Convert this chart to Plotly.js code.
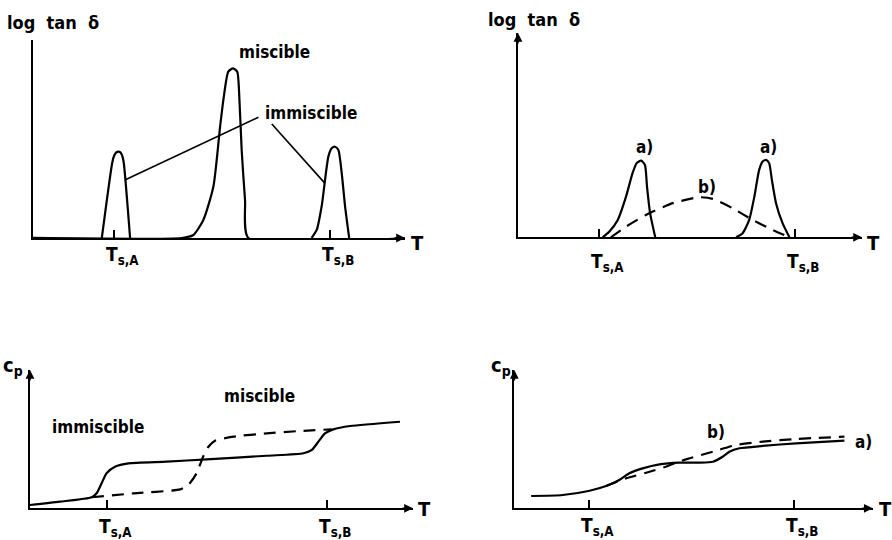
<!DOCTYPE html>
<html>
<head>
<meta charset="utf-8">
<script src="https://cdn.plot.ly/plotly-3.0.1.min.js"></script>
<style>html,body{margin:0;padding:0;background:#fff;}#chart{width:892px;height:540px;}</style>
</head>
<body>
<div id="chart"></div>
<script>
// ---------- Data (arbitrary units: T 0-100 along each axis, response 0-100 up each axis) ----------
// Panel 1: log tan δ, miscible vs immiscible
const p1PeakA_T = [18.5, 21.3, 21.8, 22.4, 22.9, 23.5, 24.0, 24.4, 26.1];
const p1PeakA_Y = [0, 38, 41.5, 43.2, 43.6, 43.2, 41.5, 38, 0];
const p1Misc_T = [0, 40.0, 43.1, 45.8, 48.5, 50.3, 51.3, 52.5, 53.8, 54.9, 55.5, 56.1, 57.0, 57.9, 100];
const p1Misc_Y = [0, 0, 1.5, 9.1, 26.0, 56.3, 71.4, 84.0, 85.7, 84.0, 69.7, 44.4, 19.2, 0, 0];
const p1PeakB_T = [74.9, 76.3, 77.6, 79.4, 80.3, 81.2, 82.1, 83.0, 83.9, 85.0];
const p1PeakB_Y = [0, 4.2, 16.0, 41.1, 45.3, 46.1, 44.4, 32.7, 16.0, 0];
const p1Leader1_T = [60.6, 24.7];
const p1Leader1_Y = [61.0, 29.3];
const p1Leader2_T = [64.2, 78.5];
const p1Leader2_Y = [57.6, 27.6];
const p1Ticks = [21.9, 79.8];

// Panel 2: log tan δ, a) two phases, b) broad
const p2A1_T = [24.6, 26.5, 29.0, 31.4, 33.3, 34.5, 35.8, 36.9, 37.5, 38.4, 39.9];
const p2A1_Y = [0, 2.7, 8.5, 19.9, 31.4, 36.3, 37.5, 35.4, 24.8, 11.8, 0];
const p2A2_T = [63.4, 65.3, 67.2, 68.7, 70.1, 71.1, 72.1, 73.0, 73.8, 75.0, 76.9, 78.9];
const p2A2_Y = [0, 2.0, 8.5, 19.9, 33.0, 37.1, 37.9, 36.3, 28.1, 16.7, 6.9, 0];
const p2B_T = [27.0, 31.4, 37.2, 45.0, 52.7, 56.6, 62.4, 68.2, 74.0, 78.9];
const p2B_Y = [0, 5.2, 10.9, 16.7, 19.6, 18.8, 14.2, 8.5, 3.6, 0];
const p2Ticks = [23.6, 80.6];

// Panel 3: c_p, miscible vs immiscible
const p3Solid_T = [0, 7.8, 16.1, 17.4, 18.7, 20.0, 22.2, 25.7, 35.7, 46.1, 61.8, 71.4, 73.6, 75.3, 77.0, 79.2, 83.6, 96.6];
const p3Solid_Y = [2.4, 4.8, 8.0, 10.9, 18.1, 25.4, 30.1, 32.5, 33.7, 35.4, 38.0, 39.8, 42.2, 48.2, 54.2, 57.1, 59.5, 62.6];
const p3Dash_T = [16.1, 27.0, 39.2, 41.3, 43.5, 45.2, 46.6, 48.3, 53.1, 61.8, 70.5, 78.8];
const p3Dash_Y = [8.0, 10.8, 13.7, 16.8, 25.3, 37.3, 44.5, 48.9, 51.8, 54.2, 55.9, 57.1];
const p3Ticks = [20.2, 77.5];

// Panel 4: c_p, a) and b)
const p4A_T = [4.7, 13.5, 21.0, 25.6, 29.3, 32.1, 35.8, 40.5, 46.0, 51.6, 55.4, 58.1, 60.0, 62.8, 69.3, 78.6, 92.1];
const p4A_Y = [8.9, 9.6, 12.7, 16.1, 20.5, 25.3, 28.9, 31.8, 33.0, 33.0, 33.7, 37.3, 40.9, 43.4, 45.1, 47.0, 48.9];
const p4B_T = [25.6, 31.2, 36.8, 42.3, 47.9, 55.4, 61.9, 69.3, 78.6, 92.1];
const p4B_Y = [16.1, 21.7, 25.7, 30.1, 35.4, 40.9, 45.8, 48.2, 50.1, 51.8];
const p4Ticks = [20.8, 78.1];

const tickText = ['T<sub>s,A</sub>', 'T<sub>s,B</sub>'];

// ---------- Styling ----------
const FONT = 'DejaVu Sans Condensed, DejaVu Sans, sans-serif';
const solid = {color: '#000', width: 2.2, shape: 'spline', smoothing: 0.6};
const dashed = {color: '#000', width: 2.2, dash: '12px,8px', shape: 'spline', smoothing: 0.6};
const straight = {color: '#000', width: 1.6};

function tr(x, y, line, xa, ya) {
  return {type: 'scatter', mode: 'lines', x: x, y: y, line: line, xaxis: xa, yaxis: ya, hoverinfo: 'skip'};
}

const traces = [
  tr(p1PeakA_T, p1PeakA_Y, solid, 'x', 'y'),
  tr(p1Misc_T, p1Misc_Y, solid, 'x', 'y'),
  tr(p1PeakB_T, p1PeakB_Y, solid, 'x', 'y'),
  tr(p1Leader1_T, p1Leader1_Y, straight, 'x', 'y'),
  tr(p1Leader2_T, p1Leader2_Y, straight, 'x', 'y'),
  tr(p2A1_T, p2A1_Y, solid, 'x2', 'y2'),
  tr(p2A2_T, p2A2_Y, solid, 'x2', 'y2'),
  tr(p2B_T, p2B_Y, dashed, 'x2', 'y2'),
  tr(p3Solid_T, p3Solid_Y, solid, 'x3', 'y3'),
  tr(p3Dash_T, p3Dash_Y, dashed, 'x3', 'y3'),
  tr(p4A_T, p4A_Y, solid, 'x4', 'y4'),
  tr(p4B_T, p4B_Y, dashed, 'x4', 'y4')
];

function xax(domain, anchor, ticks) {
  return {domain: domain, anchor: anchor, range: [0, 100], showgrid: false, zeroline: false,
    showline: true, linecolor: '#000', linewidth: 2, ticks: 'inside', ticklen: 8, tickwidth: 2,
    tickcolor: '#000', tickvals: ticks, showticklabels: false, fixedrange: true};
}
function yax(domain, anchor) {
  return {domain: domain, anchor: anchor, range: [0, 100], showgrid: false, zeroline: false,
    showline: true, linecolor: '#000', linewidth: 2, ticks: '', showticklabels: false, fixedrange: true};
}

const annotations = [];
// positions given as fractions of each panel's axis length (axis domain units)
function txt(n, x, y, text, size, xanchor, extra) {
  annotations.push(Object.assign({xref: 'x' + n + ' domain', yref: 'y' + n + ' domain', x: x, y: y, text: text,
    showarrow: false, xanchor: xanchor || 'center', yanchor: 'middle',
    font: {family: FONT, size: size, color: '#000', weight: 'bold'}}, extra || {}));
}
function arrow(n, x, y, ax, ay) {
  annotations.push({xref: 'x' + n + ' domain', yref: 'y' + n + ' domain', x: x, y: y, ax: ax, ay: ay, text: '',
    showarrow: true, arrowhead: 2, arrowsize: 1.1, arrowwidth: 1.6, arrowcolor: '#000'});
}
function tickLabels(n, ticks, yshift) {
  ticks.forEach((t, i) => annotations.push({xref: 'x' + n, yref: 'y' + n + ' domain', x: t, y: 0,
    text: tickText[i], showarrow: false, xanchor: 'left', yanchor: 'top', xshift: -10, yshift: yshift,
    font: {family: FONT, size: 19, color: '#000', weight: 'bold'}}));
}

const LOGTAN = 'log\u00a0\u00a0tan\u00a0\u00a0δ';

// Panel 1
txt('', -0.075, 1.09, LOGTAN, 18, 'left');
txt('', 0.648, 0.939, 'miscible', 17);
txt('', 0.747, 0.631, 'immiscible', 17);
txt('', 1.035, -0.025, 'T', 20);
arrow('', 1, 0, -12, 0);
tickLabels('', p1Ticks, -3);

// Panel 2
txt('2', -0.093, 1.065, LOGTAN, 18, 'left');
txt('2', 0.369, 0.443, 'a)', 17);
txt('2', 0.727, 0.443, 'a)', 17);
txt('2', 0.549, 0.247, 'b)', 17);
txt('2', 1.032, -0.028, 'T', 20);
arrow('2', 1, 0, -12, 0);
arrow('2', 0, 1, 0, 12);
tickLabels('2', p2Ticks, -11);

// Panel 3
txt('3', -0.075, 1.03, 'c<sub>p</sub>', 20, 'left');
txt('3', 0.598, 0.813, 'miscible', 17);
txt('3', 0.178, 0.588, 'immiscible', 17);
txt('3', 1.029, -0.005, 'T', 20);
arrow('3', 1, 0, -12, 0);
arrow('3', 0, 1, 0, 12);
tickLabels('3', p3Ticks, -5);

// Panel 4
txt('4', -0.07, 1.03, 'c<sub>p</sub>', 20, 'left');
txt('4', 0.563, 0.552, 'b)', 17);
txt('4', 0.973, 0.480, 'a)', 17);
txt('4', 1.037, -0.005, 'T', 20);
arrow('4', 1, 0, -12, 0);
arrow('4', 0, 1, 0, 12);
tickLabels('4', p4Ticks, -4);

const layout = {
  width: 892, height: 540, margin: {l: 0, r: 0, t: 0, b: 0},
  paper_bgcolor: '#fff', plot_bgcolor: 'rgba(0,0,0,0)', showlegend: false,
  font: {family: FONT, color: '#000'},
  xaxis: xax([0.0370, 0.4540], 'y', p1Ticks),
  yaxis: yax([0.5593, 0.9259], 'x'),
  xaxis2: xax([0.5807, 0.9664], 'y2', p2Ticks),
  yaxis2: yax([0.5606, 0.9389], 'x2'),
  xaxis3: xax([0.0336, 0.4630], 'y3', p3Ticks),
  yaxis3: yax([0.0587, 0.3148], 'x3'),
  xaxis4: xax([0.5766, 0.9784], 'y4', p4Ticks),
  yaxis4: yax([0.0587, 0.3148], 'x4'),
  annotations: annotations
};

Plotly.newPlot('chart', traces, layout, {staticPlot: true, displayModeBar: false});
</script>
</body>
</html>
